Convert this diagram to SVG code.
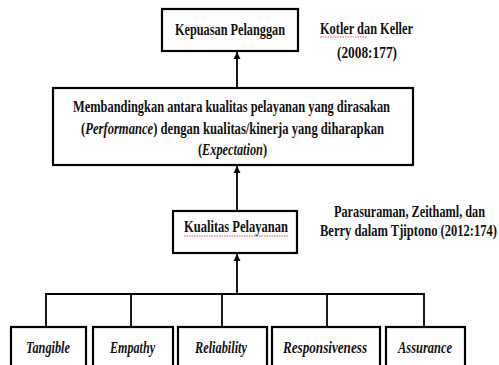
<svg xmlns="http://www.w3.org/2000/svg" width="499" height="365" viewBox="0 0 499 365">
<defs>
<style>
.box{fill:#fff;stroke:#000;stroke-width:2.2}
.t{font-family:"Liberation Serif",serif;font-weight:bold;font-size:16.5px;fill:#111;text-anchor:middle}
.i{font-style:italic}
.c{fill:none;stroke:#000;stroke-width:1.8}
.sq{fill:none;stroke:#d33;stroke-width:0.8;stroke-dasharray:1.5 1}
</style>
<marker id="ah" viewBox="0 0 10 10" refX="10" refY="5" markerWidth="4" markerHeight="4.5" orient="auto" markerUnits="strokeWidth">
<path d="M0,0 L10,5 L0,10 Z" fill="#000"/>
</marker>
</defs>
<rect width="499" height="365" fill="#fff"/>
<g id="connectors">
<line class="c" x1="237" y1="88" x2="237" y2="52" marker-end="url(#ah)"/>
<line class="c" x1="237" y1="211" x2="237" y2="166" marker-end="url(#ah)"/>
<line class="c" x1="237" y1="294" x2="237" y2="254" marker-end="url(#ah)"/>
<polyline class="c" points="46,327 46,294 424,294 424,327"/>
<line class="c" x1="131" y1="294" x2="131" y2="327"/>
<line class="c" x1="222" y1="294" x2="222" y2="327"/>
<line class="c" x1="327" y1="294" x2="327" y2="327"/>
</g>
<g id="kepuasan">
<rect class="box" x="162" y="9" width="136" height="42"/>
<text class="t" x="230" y="35" textLength="110" lengthAdjust="spacingAndGlyphs">Kepuasan Pelanggan</text>
</g>
<g id="ref-kotler">
<text class="t" x="366.5" y="34" textLength="93" lengthAdjust="spacingAndGlyphs">Kotler  dan Keller</text>
<path class="sq" d="M320,37 L367,37"/>
<text class="t" x="367" y="58" textLength="60" lengthAdjust="spacingAndGlyphs">(2008:177)</text>
</g>
<g id="membandingkan">
<rect class="box" x="53" y="88" width="360" height="77"/>
<text class="t" x="231.5" y="112" textLength="317" lengthAdjust="spacingAndGlyphs">Membandingkan antara kualitas pelayanan yang dirasakan</text>
<text class="t" x="232.5" y="134" textLength="303" lengthAdjust="spacingAndGlyphs">(<tspan class="i">Performance</tspan>) dengan kualitas/kinerja yang diharapkan</text>
<text class="t" x="232.5" y="155" textLength="69" lengthAdjust="spacingAndGlyphs">(<tspan class="i">Expectation</tspan>)</text>
</g>
<g id="kualitas">
<rect class="box" x="173" y="211" width="124" height="42"/>
<text class="t" x="236" y="232" textLength="104" lengthAdjust="spacingAndGlyphs">Kualitas Pelayanan</text>
<path class="sq" d="M184,236 L288,236"/>
</g>
<g id="ref-parasuraman">
<text class="t" x="409.5" y="217" textLength="151" lengthAdjust="spacingAndGlyphs">Parasuraman, Zeithaml, dan</text>
<text class="t" x="408.5" y="236" textLength="177" lengthAdjust="spacingAndGlyphs">Berry dalam Tjiptono (2012:174)</text>
</g>
<g id="tangible">
<rect class="box" x="11" y="327" width="75" height="50"/>
<text class="t i" x="48" y="353" textLength="44" lengthAdjust="spacingAndGlyphs">Tangible</text>
</g>
<g id="empathy">
<rect class="box" x="93" y="327" width="80" height="50"/>
<text class="t i" x="132.5" y="353" textLength="45" lengthAdjust="spacingAndGlyphs">Empathy</text>
</g>
<g id="reliability">
<rect class="box" x="178" y="327" width="89" height="50"/>
<text class="t i" x="221" y="353" textLength="52" lengthAdjust="spacingAndGlyphs">Reliability</text>
</g>
<g id="responsiveness">
<rect class="box" x="272" y="327" width="108" height="50"/>
<text class="t i" x="325" y="353" textLength="84" lengthAdjust="spacingAndGlyphs">Responsiveness</text>
</g>
<g id="assurance">
<rect class="box" x="386" y="327" width="79" height="50"/>
<text class="t i" x="425" y="353" textLength="54" lengthAdjust="spacingAndGlyphs">Assurance</text>
</g>
</svg>
